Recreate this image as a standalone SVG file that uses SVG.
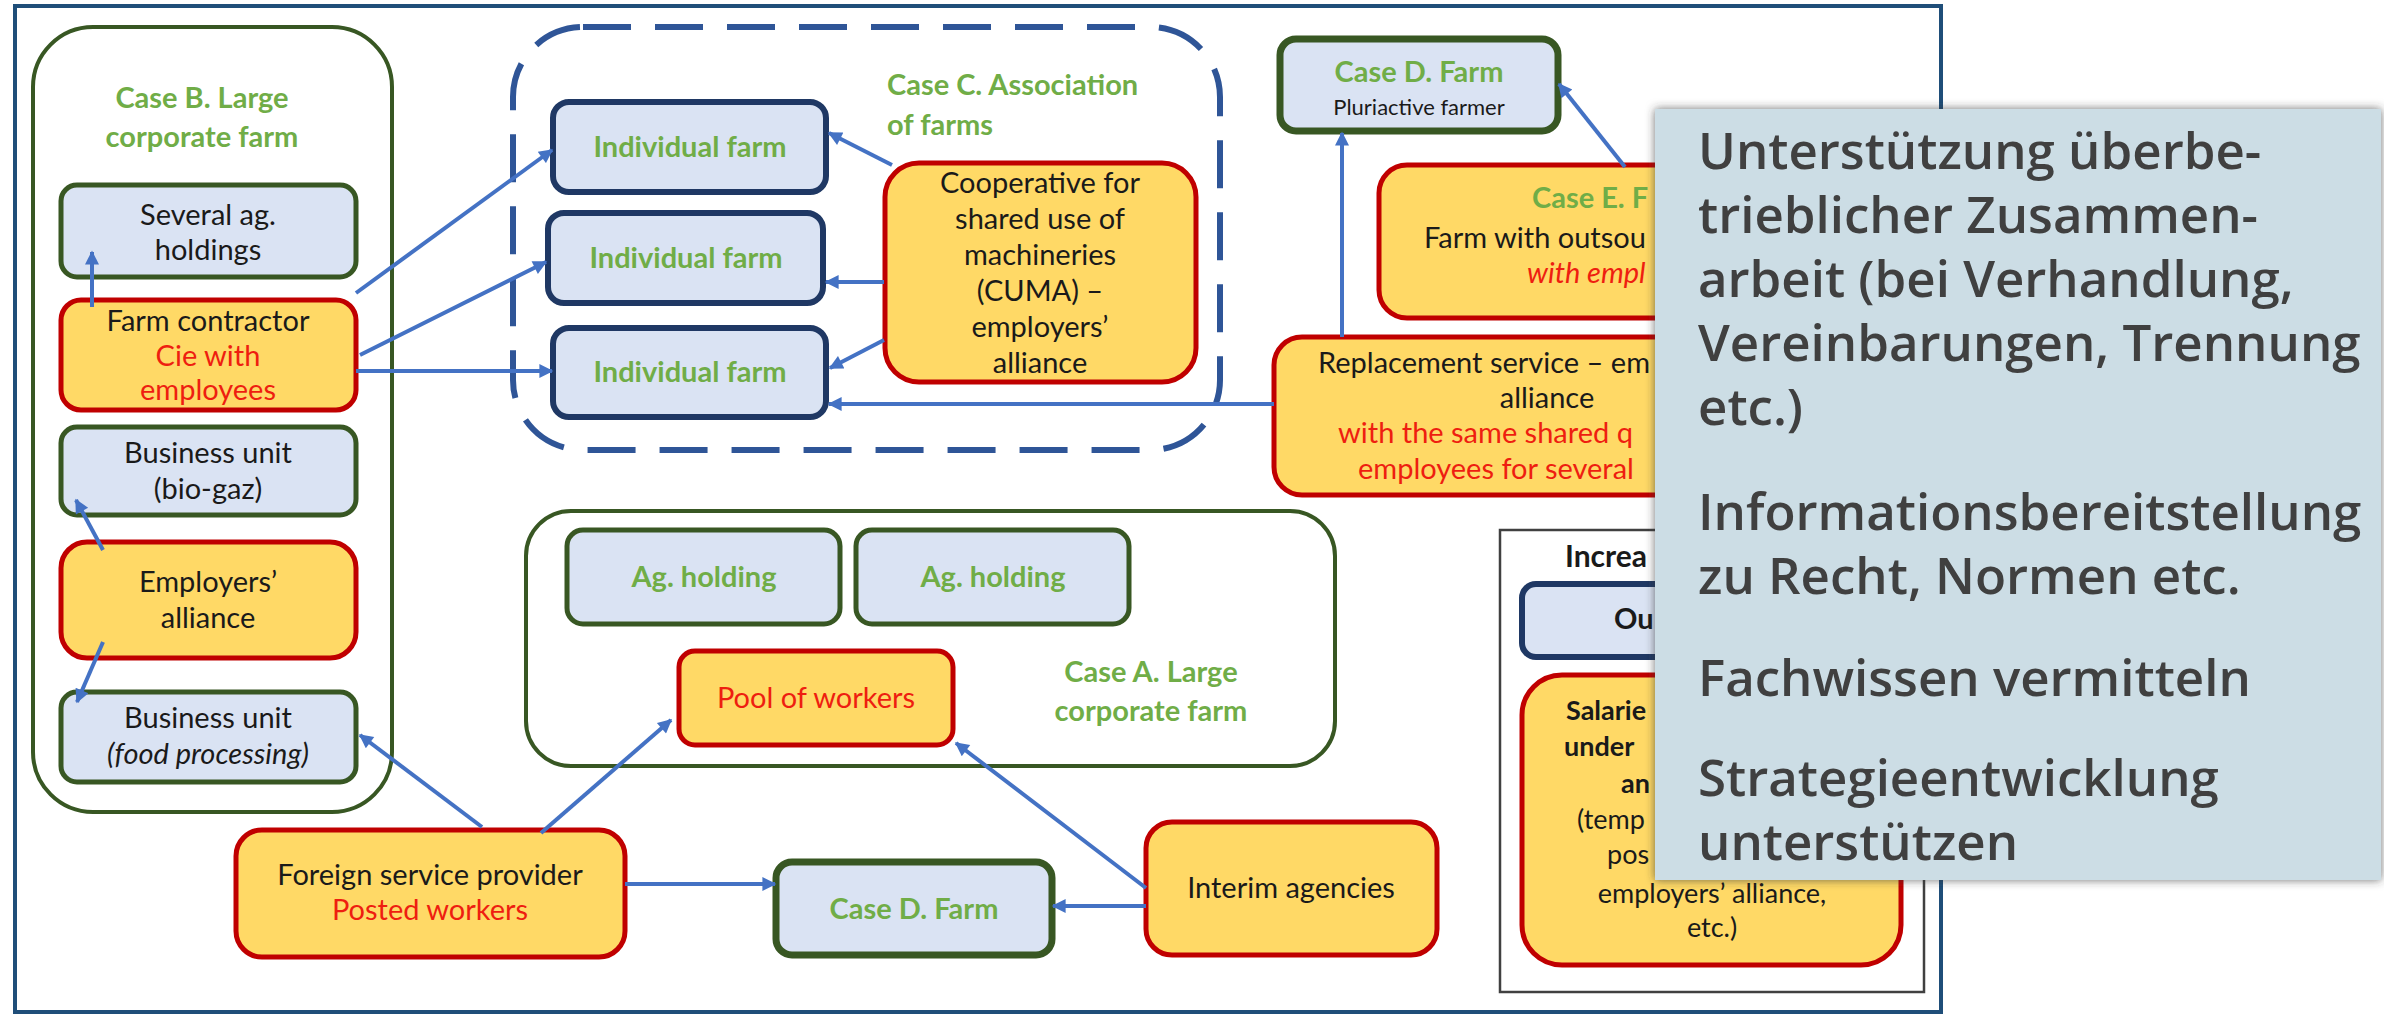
<svg xmlns="http://www.w3.org/2000/svg" width="2384" height="1017" viewBox="0 0 2384 1017">
<style>
.t{font-family:Lato,"Liberation Sans",sans-serif;font-size:29px;fill:#1a1a1a;text-anchor:middle}
.s{text-anchor:start}
.r{fill:#ee1e10}
.g{fill:#70ad47;font-weight:bold}
.b{font-weight:bold}
.i{font-style:italic}
.gb{fill:#dae3f3;stroke:#385723;stroke-width:5}
.nb{fill:#dae3f3;stroke:#1f3864;stroke-width:6}
.yb{fill:#ffd966;stroke:#c00000;stroke-width:5}
.cont{fill:none;stroke:#385723;stroke-width:4}
.conn line{stroke:#4472c4;stroke-width:4;fill:none;marker-end:url(#ah)}
.ov{font-family:"Open Sans","Noto Sans",sans-serif;font-weight:600;font-size:51px;fill:#404040}
</style>
<defs>
<marker id="ah" viewBox="0 0 10 10" refX="9" refY="5" markerWidth="16" markerHeight="14" markerUnits="userSpaceOnUse" orient="auto">
<path d="M0,0 L10,5 L0,10 z" fill="#4472c4"/>
</marker>
<filter id="sh" x="-5%" y="-5%" width="110%" height="110%">
<feDropShadow dx="0" dy="0" stdDeviation="5" flood-color="#333" flood-opacity="0.7"/>
</filter>
</defs>
<rect width="2384" height="1017" fill="#fff"/>
<rect x="15" y="6" width="1926" height="1006" fill="#fff" stroke="#1f4e79" stroke-width="4"/>

<g id="caseB">
<rect class="cont" x="33" y="27" width="359" height="785" rx="60"/>
<text class="t g" x="202" y="108">Case B. Large</text>
<text class="t g" x="202" y="147">corporate farm</text>
</g>
<g id="severalHoldings">
<rect class="gb" x="61" y="185" width="295" height="92" rx="16"/>
<text class="t" x="208" y="225">Several ag.</text>
<text class="t" x="208" y="260">holdings</text>
</g>
<g id="farmContractor">
<rect class="yb" x="61" y="300" width="295" height="110" rx="20"/>
<text class="t" x="208" y="331">Farm contractor</text>
<text class="t r" x="208" y="366">Cie with</text>
<text class="t r" x="208" y="400">employees</text>
</g>
<g id="bioGaz">
<rect class="gb" x="61" y="427" width="295" height="88" rx="16"/>
<text class="t" x="208" y="463">Business unit</text>
<text class="t" x="208" y="499">(bio-gaz)</text>
</g>
<g id="employersAlliance">
<rect class="yb" x="61" y="542" width="295" height="116" rx="26"/>
<text class="t" x="208" y="592">Employers’</text>
<text class="t" x="208" y="628">alliance</text>
</g>
<g id="foodProcessing">
<rect class="gb" x="61" y="692" width="295" height="90" rx="16"/>
<text class="t" x="208" y="728">Business unit</text>
<text class="t i" x="208" y="764">(food processing)</text>
</g>

<g id="caseC">
<rect x="513" y="27" width="707" height="423" rx="70" fill="none" stroke="#2f5597" stroke-width="6" stroke-dasharray="48,24"/>
<text class="t g s" x="887" y="95">Case C. Association</text>
<text class="t g s" x="887" y="135">of farms</text>
</g>
<g id="individualFarm1">
<rect class="nb" x="553" y="102" width="273" height="90" rx="16"/>
<text class="t g" x="690" y="157">Individual farm</text>
</g>
<g id="individualFarm2">
<rect class="nb" x="548" y="213" width="275" height="90" rx="16"/>
<text class="t g" x="686" y="268">Individual farm</text>
</g>
<g id="individualFarm3">
<rect class="nb" x="553" y="328" width="273" height="89" rx="16"/>
<text class="t g" x="690" y="382">Individual farm</text>
</g>
<g id="cuma">
<rect class="yb" x="885" y="163" width="311" height="219" rx="34"/>
<text class="t" x="1040" y="193">Cooperative for</text>
<text class="t" x="1040" y="229">shared use of</text>
<text class="t" x="1040" y="265">machineries</text>
<text class="t" x="1040" y="301">(CUMA) –</text>
<text class="t" x="1040" y="337">employers’</text>
<text class="t" x="1040" y="373">alliance</text>
</g>

<g id="caseDtop">
<rect x="1280" y="39" width="278" height="92" rx="16" fill="#dae3f3" stroke="#385723" stroke-width="7"/>
<text class="t g" x="1419" y="82">Case D. Farm</text>
<text class="t" x="1419" y="115" style="font-size:22px">Pluriactive farmer</text>
</g>
<g id="caseE">
<rect class="yb" x="1379" y="165" width="400" height="153" rx="28"/>
<text class="t g s" x="1532" y="208">Case E. F</text>
<text class="t s" x="1424" y="248">Farm with outsou</text>
<text class="t r i s" x="1527" y="283">with empl</text>
</g>
<g id="replacement">
<rect class="yb" x="1274" y="337" width="540" height="158" rx="28"/>
<text class="t s" x="1318" y="373">Replacement service – em</text>
<text class="t" x="1547" y="408">alliance</text>
<text class="t r s" x="1338" y="443">with the same shared q</text>
<text class="t r s" x="1358" y="479">employees for several</text>
</g>

<g id="caseA">
<rect class="cont" x="526" y="511" width="809" height="255" rx="45"/>
<text class="t g" x="1151" y="682">Case A. Large</text>
<text class="t g" x="1151" y="721">corporate farm</text>
</g>
<g id="agHolding1">
<rect class="gb" x="567" y="530" width="273" height="94" rx="16"/>
<text class="t g" x="704" y="587">Ag. holding</text>
</g>
<g id="agHolding2">
<rect class="gb" x="856" y="530" width="273" height="94" rx="16"/>
<text class="t g" x="993" y="587">Ag. holding</text>
</g>
<g id="pool">
<rect class="yb" x="679" y="651" width="274" height="94" rx="16"/>
<text class="t r" x="816" y="708">Pool of workers</text>
</g>
<g id="foreign">
<rect class="yb" x="236" y="830" width="389" height="127" rx="26"/>
<text class="t" x="430" y="885">Foreign service provider</text>
<text class="t r" x="430" y="920">Posted workers</text>
</g>
<g id="caseDbottom">
<rect x="776" y="862" width="276" height="93" rx="16" fill="#dae3f3" stroke="#385723" stroke-width="7"/>
<text class="t g" x="914" y="919">Case D. Farm</text>
</g>
<g id="interim">
<rect class="yb" x="1146" y="822" width="291" height="133" rx="26"/>
<text class="t" x="1291" y="898">Interim agencies</text>
</g>

<g id="legend">
<rect x="1500" y="530" width="424" height="462" fill="#fff" stroke="#404040" stroke-width="2.5"/>
<text class="t b s" x="1565" y="567" style="font-size:30px">Increa</text>
<rect x="1522" y="584" width="379" height="73" rx="14" fill="#dae3f3" stroke="#1f3864" stroke-width="6"/>
<text class="t b s" x="1614" y="629">Ou</text>
<rect class="yb" x="1522" y="675" width="379" height="290" rx="40"/>
<text class="t b s" x="1566" y="720" style="font-size:27px">Salarie</text>
<text class="t b s" x="1564" y="756" style="font-size:27px">under</text>
<text class="t b s" x="1621" y="793" style="font-size:27px">an</text>
<text class="t s" x="1577" y="829" style="font-size:27px">(temp</text>
<text class="t s" x="1607" y="864" style="font-size:27px">pos</text>
<text class="t" x="1712" y="903" style="font-size:27px">employers’ alliance,</text>
<text class="t" x="1712" y="937" style="font-size:27px">etc.)</text>
</g>

<g id="connectors" class="conn">
<line x1="92" y1="307" x2="92" y2="252"/>
<line x1="103" y1="550" x2="76" y2="500"/>
<line x1="103" y1="642" x2="77" y2="702"/>
<line x1="356" y1="293" x2="552" y2="150"/>
<line x1="360" y1="355" x2="546" y2="262"/>
<line x1="356" y1="371" x2="552" y2="371"/>
<line x1="892" y1="165" x2="829" y2="133"/>
<line x1="884" y1="282" x2="826" y2="282"/>
<line x1="884" y1="340" x2="830" y2="368"/>
<line x1="1274" y1="404" x2="829" y2="404"/>
<line x1="1342" y1="337" x2="1342" y2="133"/>
<line x1="1625" y1="167" x2="1559" y2="84"/>
<line x1="482" y1="827" x2="360" y2="735"/>
<line x1="541" y1="833" x2="671" y2="720"/>
<line x1="625" y1="884" x2="775" y2="884"/>
<line x1="1146" y1="906" x2="1053" y2="906"/>
<line x1="1146" y1="888" x2="956" y2="743"/>
</g>

<g id="overlay">
<rect x="1655" y="109" width="726" height="771" fill="#ccdde5" filter="url(#sh)"/>
<text class="ov" x="1698" y="169"><tspan x="1698">Unterstützung überbe-</tspan><tspan x="1698" dy="64">trieblicher Zusammen-</tspan><tspan x="1698" dy="64">arbeit (bei Verhandlung,</tspan><tspan x="1698" dy="64">Vereinbarungen, Trennung</tspan><tspan x="1698" dy="64">etc.)</tspan></text>
<text class="ov" x="1698" y="530"><tspan x="1698">Informationsbereitstellung</tspan><tspan x="1698" dy="64">zu Recht, Normen etc.</tspan></text>
<text class="ov" x="1698" y="696">Fachwissen vermitteln</text>
<text class="ov" x="1698" y="796"><tspan x="1698">Strategieentwicklung</tspan><tspan x="1698" dy="64">unterstützen</tspan></text>
</g>
</svg>
